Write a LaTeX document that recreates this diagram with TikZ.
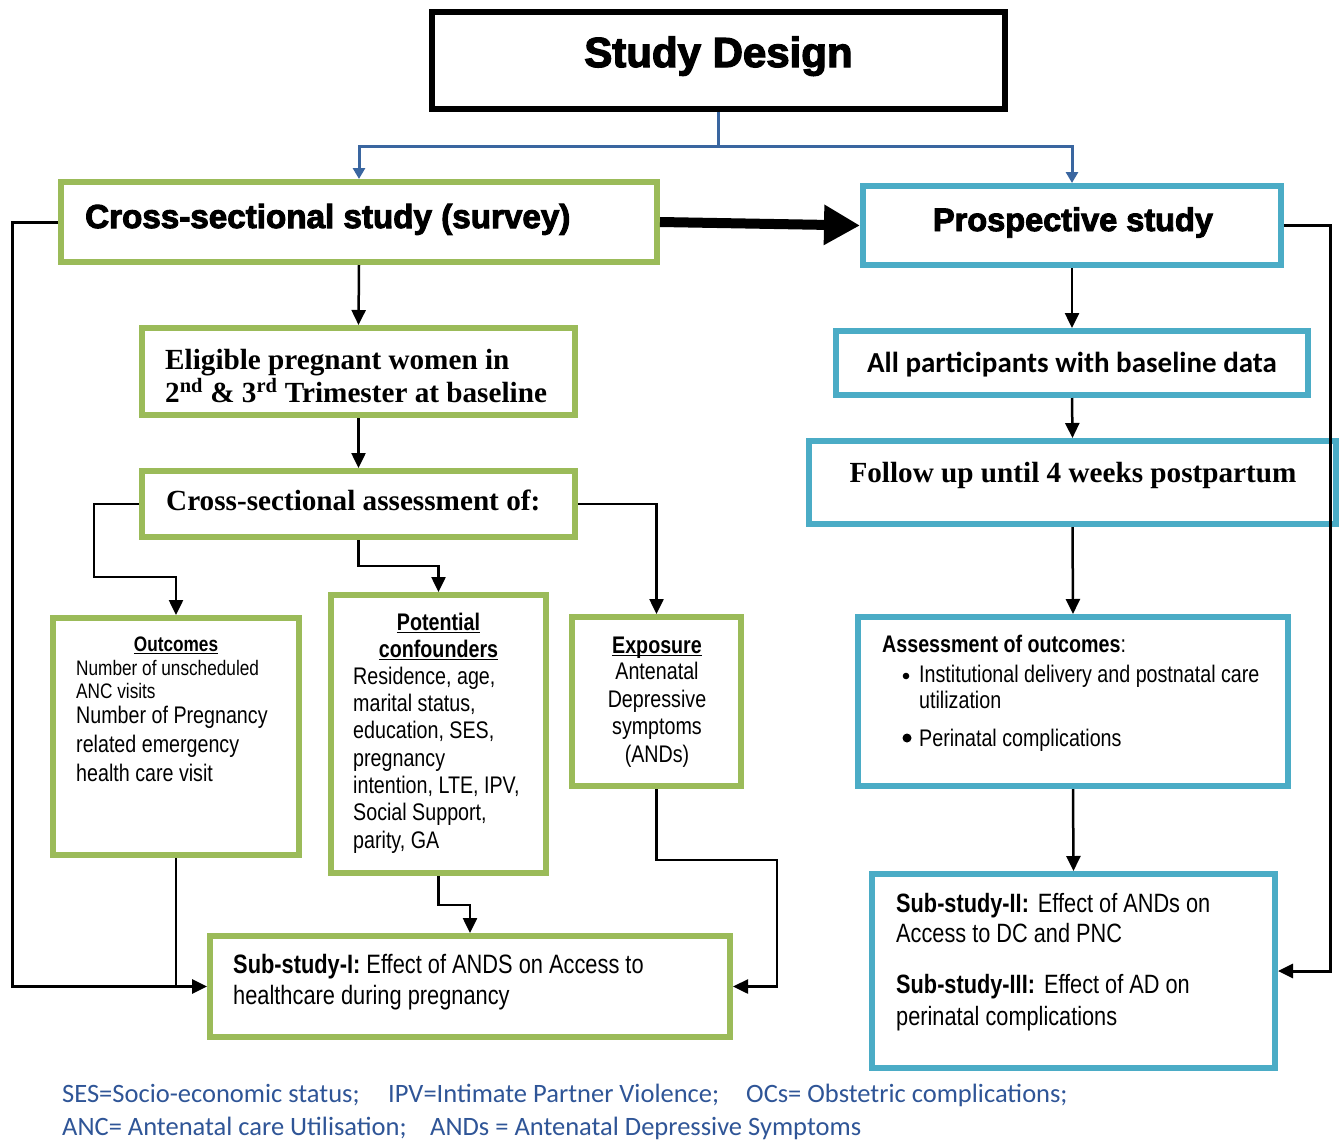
\documentclass[tikz,border=0pt]{standalone}
\usepackage{fontspec}
\setmainfont{Liberation Serif}
\newfontfamily\heavyf[BoldFeatures={FakeBold=3}]{Liberation Sans}
\newfontfamily\narrowf[FakeStretch=0.82]{Liberation Sans}
\newfontfamily\calf{Carlito}
\usetikzlibrary{arrows.meta,calc}
\definecolor{gbord}{RGB}{155,187,89}
\definecolor{bbord}{RGB}{75,172,198}
\definecolor{lblue}{RGB}{58,102,160}
\definecolor{ftblue}{RGB}{47,85,151}
\newcommand\ulx[1]{\setbox0\hbox{#1}\rlap{\rule[-3pt]{\wd0}{1.5pt}}\box0}
\newcommand\fsz[1]{\fontsize{#1}{#1}\selectfont}
\begin{document}
\begin{tikzpicture}[x=1pt,y=-1pt,
  boxbase/.style={rectangle,line width=6pt,fill=white,inner sep=0pt},
  blkbox/.style={boxbase,draw=black},
  gbox/.style={boxbase,draw=gbord},
  bbox/.style={boxbase,draw=bbord},
  tx/.style={inner sep=0pt,anchor=base west},
  txc/.style={inner sep=0pt,anchor=base},
  conn/.style={draw=black,line width=2.5pt,-{Triangle[length=15pt,width=14pt]}},
  loopc/.style={conn,line width=3pt},
  bconn/.style={draw=lblue,line width=3pt,-{Triangle[length=11pt,width=12pt]}},
  narrow/.style={font=\narrowf\fsz{#1}},
  narrowb/.style={font=\narrowf\bfseries\fsz{#1}},
]
\useasboundingbox (0,0) rectangle (1339,1141);
\fill[white] (0,0) rectangle (1339,1141);

% ---------- boxes ----------
\node[blkbox,minimum width=573pt,minimum height=97pt] (sd) at (718.5,60.5) {};
\node[gbox,minimum width=596pt,minimum height=80pt] (cs) at (359,222) {};
\node[bbox,minimum width=418pt,minimum height=79pt] (ps) at (1072,225.5) {};
\node[gbox,minimum width=433pt,minimum height=87pt] (el) at (358.5,371.5) {};
\node[gbox,minimum width=433pt,minimum height=66pt] (ca) at (358.5,504) {};
\node[gbox,minimum width=246pt,minimum height=237pt] (oc) at (176,736.5) {};
\node[gbox,minimum width=215pt,minimum height=278pt] (cf) at (438.5,734) {};
\node[gbox,minimum width=169pt,minimum height=169pt] (ex) at (656.5,701.5) {};
\node[gbox,minimum width=520pt,minimum height=101pt] (s1) at (470,986.5) {};
\node[bbox,minimum width=472pt,minimum height=64pt] (ap) at (1072,363) {};
\node[bbox,minimum width=527pt,minimum height=83pt] (fu) at (1072.5,482.5) {};
\node[bbox,minimum width=430pt,minimum height=169pt] (ao) at (1073,701.5) {};
\node[bbox,minimum width=403pt,minimum height=194pt] (s2) at (1073.5,971) {};

% ---------- texts ----------
\node[txc,font=\heavyf\bfseries\fsz{42}] (t_sd) at (718.5,67) {Study Design};
\node[tx,font=\heavyf\bfseries\fsz{33.2}] (t_cs) at (85,228) {Cross-sectional study (survey)};
\node[txc,font=\heavyf\bfseries\fsz{32.5}] (t_ps) at (1073,231) {Prospective study};

\node[tx,font=\bfseries\fsz{29.2}] (t_el1) at (165,369) {Eligible pregnant women in};
\node[tx,font=\bfseries\fsz{29.2}] (t_el2) at (165,402) {2\textsuperscript{nd} \& 3\textsuperscript{rd} Trimester at baseline};
\node[tx,font=\bfseries\fsz{29.2}] (t_ca) at (166,510) {Cross-sectional assessment of:};

\node[txc,narrowb=21] (t_oc0) at (176,651) {\ulx{Outcomes}};
\node[tx,narrow=21] (t_oc1) at (76,675) {Number of unscheduled};
\node[tx,narrow=21] (t_oc2) at (76,698) {ANC visits};
\node[tx,narrow=24] (t_oc3) at (76,723) {Number of Pregnancy};
\node[tx,narrow=24] (t_oc4) at (76,752) {related emergency};
\node[tx,narrow=24] (t_oc5) at (76,781) {health care visit};

\node[txc,narrowb=24] (t_cf0) at (438.5,630) {\ulx{Potential}};
\node[txc,narrowb=24] (t_cf1) at (438.5,657) {\ulx{confounders}};
\node[tx,narrow=24] (t_cf2) at (353,684) {Residence, age,};
\node[tx,narrow=24] (t_cf3) at (353,711.3) {marital status,};
\node[tx,narrow=24] (t_cf4) at (353,738.7) {education, SES,};
\node[tx,narrow=24] (t_cf5) at (353,766) {pregnancy};
\node[tx,narrow=24] (t_cf6) at (353,793.3) {intention, LTE, IPV,};
\node[tx,narrow=24] (t_cf7) at (353,820.7) {Social Support,};
\node[tx,narrow=24] (t_cf8) at (353,848) {parity, GA};

\node[txc,narrowb=24] (t_ex0) at (657,653) {\ulx{Exposure}};
\node[txc,narrow=24] (t_ex1) at (657,679) {Antenatal};
\node[txc,narrow=24] (t_ex2) at (657,707) {Depressive};
\node[txc,narrow=24] (t_ex3) at (657,734) {symptoms};
\node[txc,narrow=24] (t_ex4) at (657,762) {(ANDs)};

\node[tx,narrow=26.6] (t_s11) at (233,973) {\textbf{Sub-study-I:} Effect of ANDS on Access to};
\node[tx,narrow=26.6] (t_s12) at (233,1004) {healthcare during pregnancy};

\node[txc,font=\calf\bfseries\fsz{29}] (t_ap) at (1072,372) {All participants with baseline data};
\node[txc,font=\bfseries\fsz{29.2}] (t_fu) at (1073,482) {Follow up until 4 weeks postpartum};

\node[tx,narrow=24] (t_ao0) at (882,652) {\textbf{Assessment of outcomes}:};
\node[tx,narrow=24] (t_ao1) at (919,682) {Institutional delivery and postnatal care};
\node[tx,narrow=24] (t_ao2) at (919,708) {utilization};
\node[tx,narrow=24] (t_ao3) at (919,746) {Perinatal complications};
\fill (906,676) circle (3.3);
\fill (907,738) circle (4.5);

\node[tx,narrow=26.5] (t_s21) at (896,912) {\textbf{Sub-study-II:}\hspace{9pt}Effect of ANDs on};
\node[tx,narrow=26.5] (t_s22) at (896,942) {Access to DC and PNC};
\node[tx,narrow=26.5] (t_s23) at (896,993) {\textbf{Sub-study-III:}\hspace{9pt}Effect of AD on};
\node[tx,narrow=26.5] (t_s24) at (896,1025) {perinatal complications};

\node[tx,font=\calf\fsz{26.5},text=ftblue] (f1a) at (62,1102) {SES=Socio-economic status;};
\node[tx,font=\calf\fsz{26.5},text=ftblue] (f1b) at (388,1102) {IPV=Intimate Partner Violence;};
\node[tx,font=\calf\fsz{26.5},text=ftblue] (f1c) at (746,1102) {OCs= Obstetric complications;};
\node[tx,font=\calf\fsz{26.5},text=ftblue] (f2a) at (62,1135) {ANC= Antenatal care Utilisation;};
\node[tx,font=\calf\fsz{26.5},text=ftblue] (f2b) at (430,1135) {ANDs = Antenatal Depressive Symptoms};

% ---------- connectors ----------
\coordinate (jn) at (718.5,146);
\draw[bconn] (sd.south) -- (jn) -| (cs.north);
\draw[bconn] (jn) -| (ps.north);

\draw[line width=10pt,-{Triangle[length=36pt,width=38pt]}] (cs.east) -- (ps.west);

\draw[loopc] (cs.west) -| (12,986.5) -- (s1.west);
\draw[line width=2pt] (oc.south) -- (oc.south |- s1.west);
\draw[loopc] (ps.east) -| (1330,971) -- (s2.east);

\draw[conn] (cs.south) -- (el.north);
\draw[conn] (el.south) -- (ca.north);
\draw[conn] (ca.west) -| (94,577) -| (oc.north);
\draw[conn] (ca.south) -- (358.5,566) -| (cf.north);
\draw[conn] (ca.east) -| (ex.north);
\draw[conn] (cf.south) -- (438.5,905) -| (s1.north);
\draw[conn] (ex.south) |- (777,860) |- (s1.east);

\draw[conn] (ps.south) -- (ap.north);
\draw[conn] (ap.south) -- (fu.north);
\draw[conn] (fu.south) -- (ao.north);
\draw[conn] (ao.south) -- (s2.north);
\end{tikzpicture}
\end{document}
